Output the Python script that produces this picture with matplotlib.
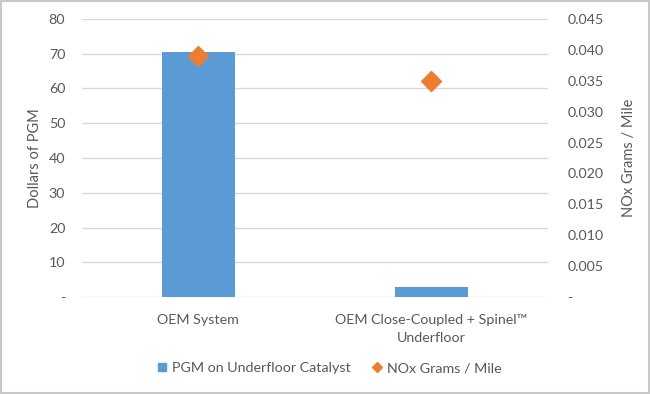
import matplotlib
matplotlib.use("Agg")
import matplotlib.pyplot as plt
from matplotlib.lines import Line2D
from matplotlib.patches import Rectangle
import numpy as np

categories = ["OEM System", "OEM Close-Coupled + Spinel\u2122\nUnderfloor"]
pgm_dollars = [70.5, 3.0]
nox_gpm = [0.039, 0.035]
left_ticks = [0, 10, 20, 30, 40, 50, 60, 70, 80]
left_labels = ["-", "10", "20", "30", "40", "50", "60", "70", "80"]
right_ticks = [0, 0.005, 0.010, 0.015, 0.020, 0.025, 0.030, 0.035, 0.040, 0.045]
right_labels = ["-", "0.005", "0.010", "0.015", "0.020", "0.025", "0.030", "0.035", "0.040", "0.045"]

plt.rcParams['font.family'] = ['Lato', 'DejaVu Sans']
txt = "#595959"
grid = "#d9d9d9"
bar_c = "#5b9bd5"
dia_c = "#ed7d31"

fig = plt.figure(figsize=(6.5, 3.94), dpi=100)
fig.patch.set_facecolor("white")
ax = fig.add_axes([0.126, 0.246, 0.717, 0.706])
x = np.arange(len(categories))
ax.bar(x, pgm_dollars, width=0.31, color=bar_c, zorder=2)
ax.set_xlim(-0.5, 1.5)
ax.set_ylim(0, 80)
ax.set_yticks(left_ticks)
ax.set_yticklabels(left_labels)
ax.set_xticks(x)
ax.set_xticklabels(categories, linespacing=1.6)
ax.grid(axis='y', color=grid, linewidth=1, zorder=0)
for s in ax.spines.values():
    s.set_visible(False)
ax.tick_params(axis='both', length=0, colors=txt, labelsize=10.3)
ax.tick_params(axis='y', pad=12)
ax.tick_params(axis='x', pad=12)
ax.set_ylabel("Dollars of PGM", color=txt, fontsize=10.5, labelpad=5)

ax2 = ax.twinx()
ax2.plot(x, nox_gpm, linestyle='none', marker='D', markersize=10.5, color=dia_c, zorder=3)
ax2.set_ylim(0, 0.045)
ax2.set_yticks(right_ticks)
ax2.set_yticklabels(right_labels)
for s in ax2.spines.values():
    s.set_visible(False)
ax2.tick_params(axis='y', length=0, colors=txt, labelsize=10.3, pad=14)
ax2.set_ylabel("NOx Grams / Mile", color=txt, fontsize=10.5, labelpad=13)

handles = [Line2D([], [], linestyle='none', marker='s', markersize=6, color=bar_c),
           Line2D([], [], linestyle='none', marker='D', markersize=5.5, color=dia_c)]
leg = fig.legend(handles, ["PGM on Underfloor Catalyst", "NOx Grams / Mile"],
                 loc='center', bbox_to_anchor=(0.505, 0.066), ncol=2, frameon=False,
                 fontsize=10.3, handletextpad=0.2, columnspacing=1.4, handlelength=1.0)
for t in leg.get_texts():
    t.set_color(txt)

fig.patches.append(Rectangle((0.0015, 0.002), 0.997, 0.995, transform=fig.transFigure,
                             fill=False, edgecolor="#c8c8c8", linewidth=1.5))
fig.savefig("out.png", dpi=100)
